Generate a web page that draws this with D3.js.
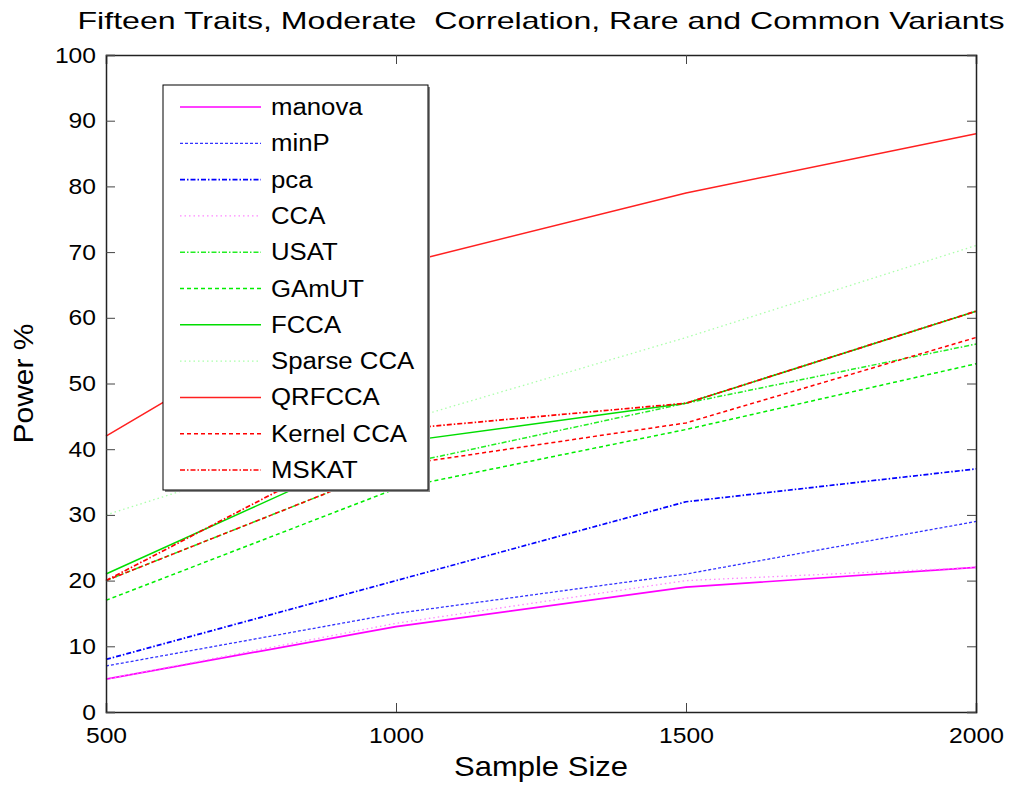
<!DOCTYPE html>
<html>
<head>
<meta charset="utf-8">
<script src="https://cdn.jsdelivr.net/npm/d3@7"></script>
<style>
  body { margin: 0; background: #fff; }
  svg { display: block; font-family: "Liberation Sans", Arial, sans-serif; }
</style>
</head>
<body>
<svg id="chart" width="1011" height="788"></svg>
<script>
const sampleSizes = [500, 1000, 1500, 2000];
const manova = [5, 13, 19, 22];
const minP = [7, 15, 21, 29];
const pca = [8, 20, 32, 37];
const cca = [5, 13.5, 20, 22];
const usat = [20, 37.5, 47, 56];
const gamut = [17, 34, 43, 53];
const fcca = [21, 41, 47, 61];
const sparseCca = [30, 44, 57, 71];
const qrfcca = [42, 68, 79, 88];
const kernelCca = [20, 37.5, 44, 57];
const mskat = [20, 43, 47, 61];

const seriesNames = ["manova", "minP", "pca", "CCA", "USAT", "GAmUT", "FCCA",
  "Sparse CCA", "QRFCCA", "Kernel CCA", "MSKAT"];
const seriesValues = [manova, minP, pca, cca, usat, gamut, fcca, sparseCca,
  qrfcca, kernelCca, mskat];
const xTicks = [500, 1000, 1500, 2000];
const yTicks = d3.range(0, 101, 10);

// matlab-ish line styles
const styles = [
  { color: "#ff00ff", dash: null, width: 1.7 },
  { color: "#3333ff", dash: "3,2", width: 1.3 },
  { color: "#0000ff", dash: "5,2,1.5,2", width: 1.7 },
  { color: "#ff88ff", dash: "1.5,3", width: 1.3 },
  { color: "#22ee22", dash: "5,2,1.5,2", width: 1.5 },
  { color: "#00ee00", dash: "4,3", width: 1.5 },
  { color: "#00dd00", dash: null, width: 1.5 },
  { color: "#aaffaa", dash: "1.5,3", width: 1.3 },
  { color: "#ff2020", dash: null, width: 1.5 },
  { color: "#ff0000", dash: "4,3", width: 1.5 },
  { color: "#ff0000", dash: "5,2,1.5,2", width: 1.7 }
];

const margin = { top: 55, right: 35, bottom: 76, left: 106 };
const svg = d3.select("#chart");
const width = 1011, height = 788;
const plotWidth = width - margin.left - margin.right;
const plotHeight = height - margin.top - margin.bottom;

const x = d3.scaleLinear().domain([500, 2000]).range([0, plotWidth]);
const y = d3.scaleLinear().domain([0, 100]).range([plotHeight, 0]);

const plot = svg.append("g")
  .attr("transform", "translate(" + margin.left + "," + margin.top + ")");

// lines
const line = d3.line()
  .x(function(d, i) { return x(sampleSizes[i]); })
  .y(function(d) { return y(d); });

plot.append("g").selectAll("path")
  .data(seriesValues)
  .enter().append("path")
  .attr("d", line)
  .attr("fill", "none")
  .attr("stroke", function(d, i) { return styles[i].color; })
  .attr("stroke-width", function(d, i) { return styles[i].width; })
  .attr("stroke-dasharray", function(d, i) { return styles[i].dash; });

// axes, ticks inside, box all round
const tickLen = 9;
plot.append("g")
  .attr("transform", "translate(0," + plotHeight + ")")
  .call(d3.axisBottom(x).tickValues(xTicks).tickSize(-tickLen).tickPadding(tickLen + 6).tickFormat(d3.format("d")));
plot.append("g")
  .call(d3.axisTop(x).tickValues(xTicks).tickSize(-tickLen).tickFormat(""));
plot.append("g")
  .call(d3.axisLeft(y).tickValues(yTicks).tickSize(-tickLen).tickPadding(tickLen + 1).tickFormat(d3.format("d")));
plot.append("g")
  .attr("transform", "translate(" + plotWidth + ",0)")
  .call(d3.axisRight(y).tickValues(yTicks).tickSize(-tickLen).tickFormat(""));

plot.selectAll(".domain").attr("stroke", "#222").attr("stroke-width", 1.5);
plot.selectAll(".tick line").attr("stroke", "#444");
plot.selectAll(".tick text")
  .attr("fill", "#000")
  .style("font-size", "22px")
  .style("font-family", "'Liberation Sans', Arial, sans-serif");

// legend
const legend = svg.append("g").attr("transform", "translate(163,85)");
const legendW = 265, legendH = 405;
legend.append("rect")
  .attr("x", 2).attr("y", 2)
  .attr("width", legendW).attr("height", legendH)
  .attr("fill", "#888");
legend.append("rect")
  .attr("width", legendW).attr("height", legendH)
  .attr("fill", "#fff").attr("stroke", "#000").attr("stroke-width", 1);

const rows = legend.selectAll(".row")
  .data(seriesNames)
  .enter().append("g")
  .attr("class", "row")
  .attr("transform", function(d, i) { return "translate(0," + (22 + i * 36.3) + ")"; });

rows.append("line")
  .attr("x1", 17).attr("x2", 98)
  .attr("stroke", function(d, i) { return styles[i].color; })
  .attr("stroke-width", function(d, i) { return styles[i].width; })
  .attr("stroke-dasharray", function(d, i) { return styles[i].dash; });

rows.append("text")
  .attr("class", "stretch")
  .attr("x", 108)
  .attr("dy", "0.35em")
  .style("font-size", "23px")
  .text(function(d) { return d; });

// titles
svg.append("text")
  .attr("x", margin.left + plotWidth / 2)
  .attr("y", 29)
  .attr("text-anchor", "middle")
  .attr("textLength", 927)
  .attr("lengthAdjust", "spacingAndGlyphs")
  .style("font-size", "24px")
  .style("white-space", "pre")
  .text("Fifteen Traits, Moderate  Correlation, Rare and Common Variants");

svg.append("text")
  .attr("x", margin.left + plotWidth / 2)
  .attr("y", 776)
  .attr("text-anchor", "middle")
  .attr("textLength", 174)
  .attr("lengthAdjust", "spacingAndGlyphs")
  .style("font-size", "28px")
  .text("Sample Size");

svg.append("text")
  .attr("transform", "translate(33," + (margin.top + plotHeight / 2) + ") rotate(-90)")
  .attr("text-anchor", "middle")
  .attr("textLength", 120)
  .attr("lengthAdjust", "spacingAndGlyphs")
  .style("font-size", "28px")
  .text("Power %");

// the figure is a little wider than normal type; stretch tick and legend text
svg.selectAll(".tick text, text.stretch").each(function() {
  const t = d3.select(this);
  if (!t.text()) return;
  const w = this.getComputedTextLength();
  t.attr("textLength", w * 1.12).attr("lengthAdjust", "spacingAndGlyphs");
});
</script>
</body>
</html>
